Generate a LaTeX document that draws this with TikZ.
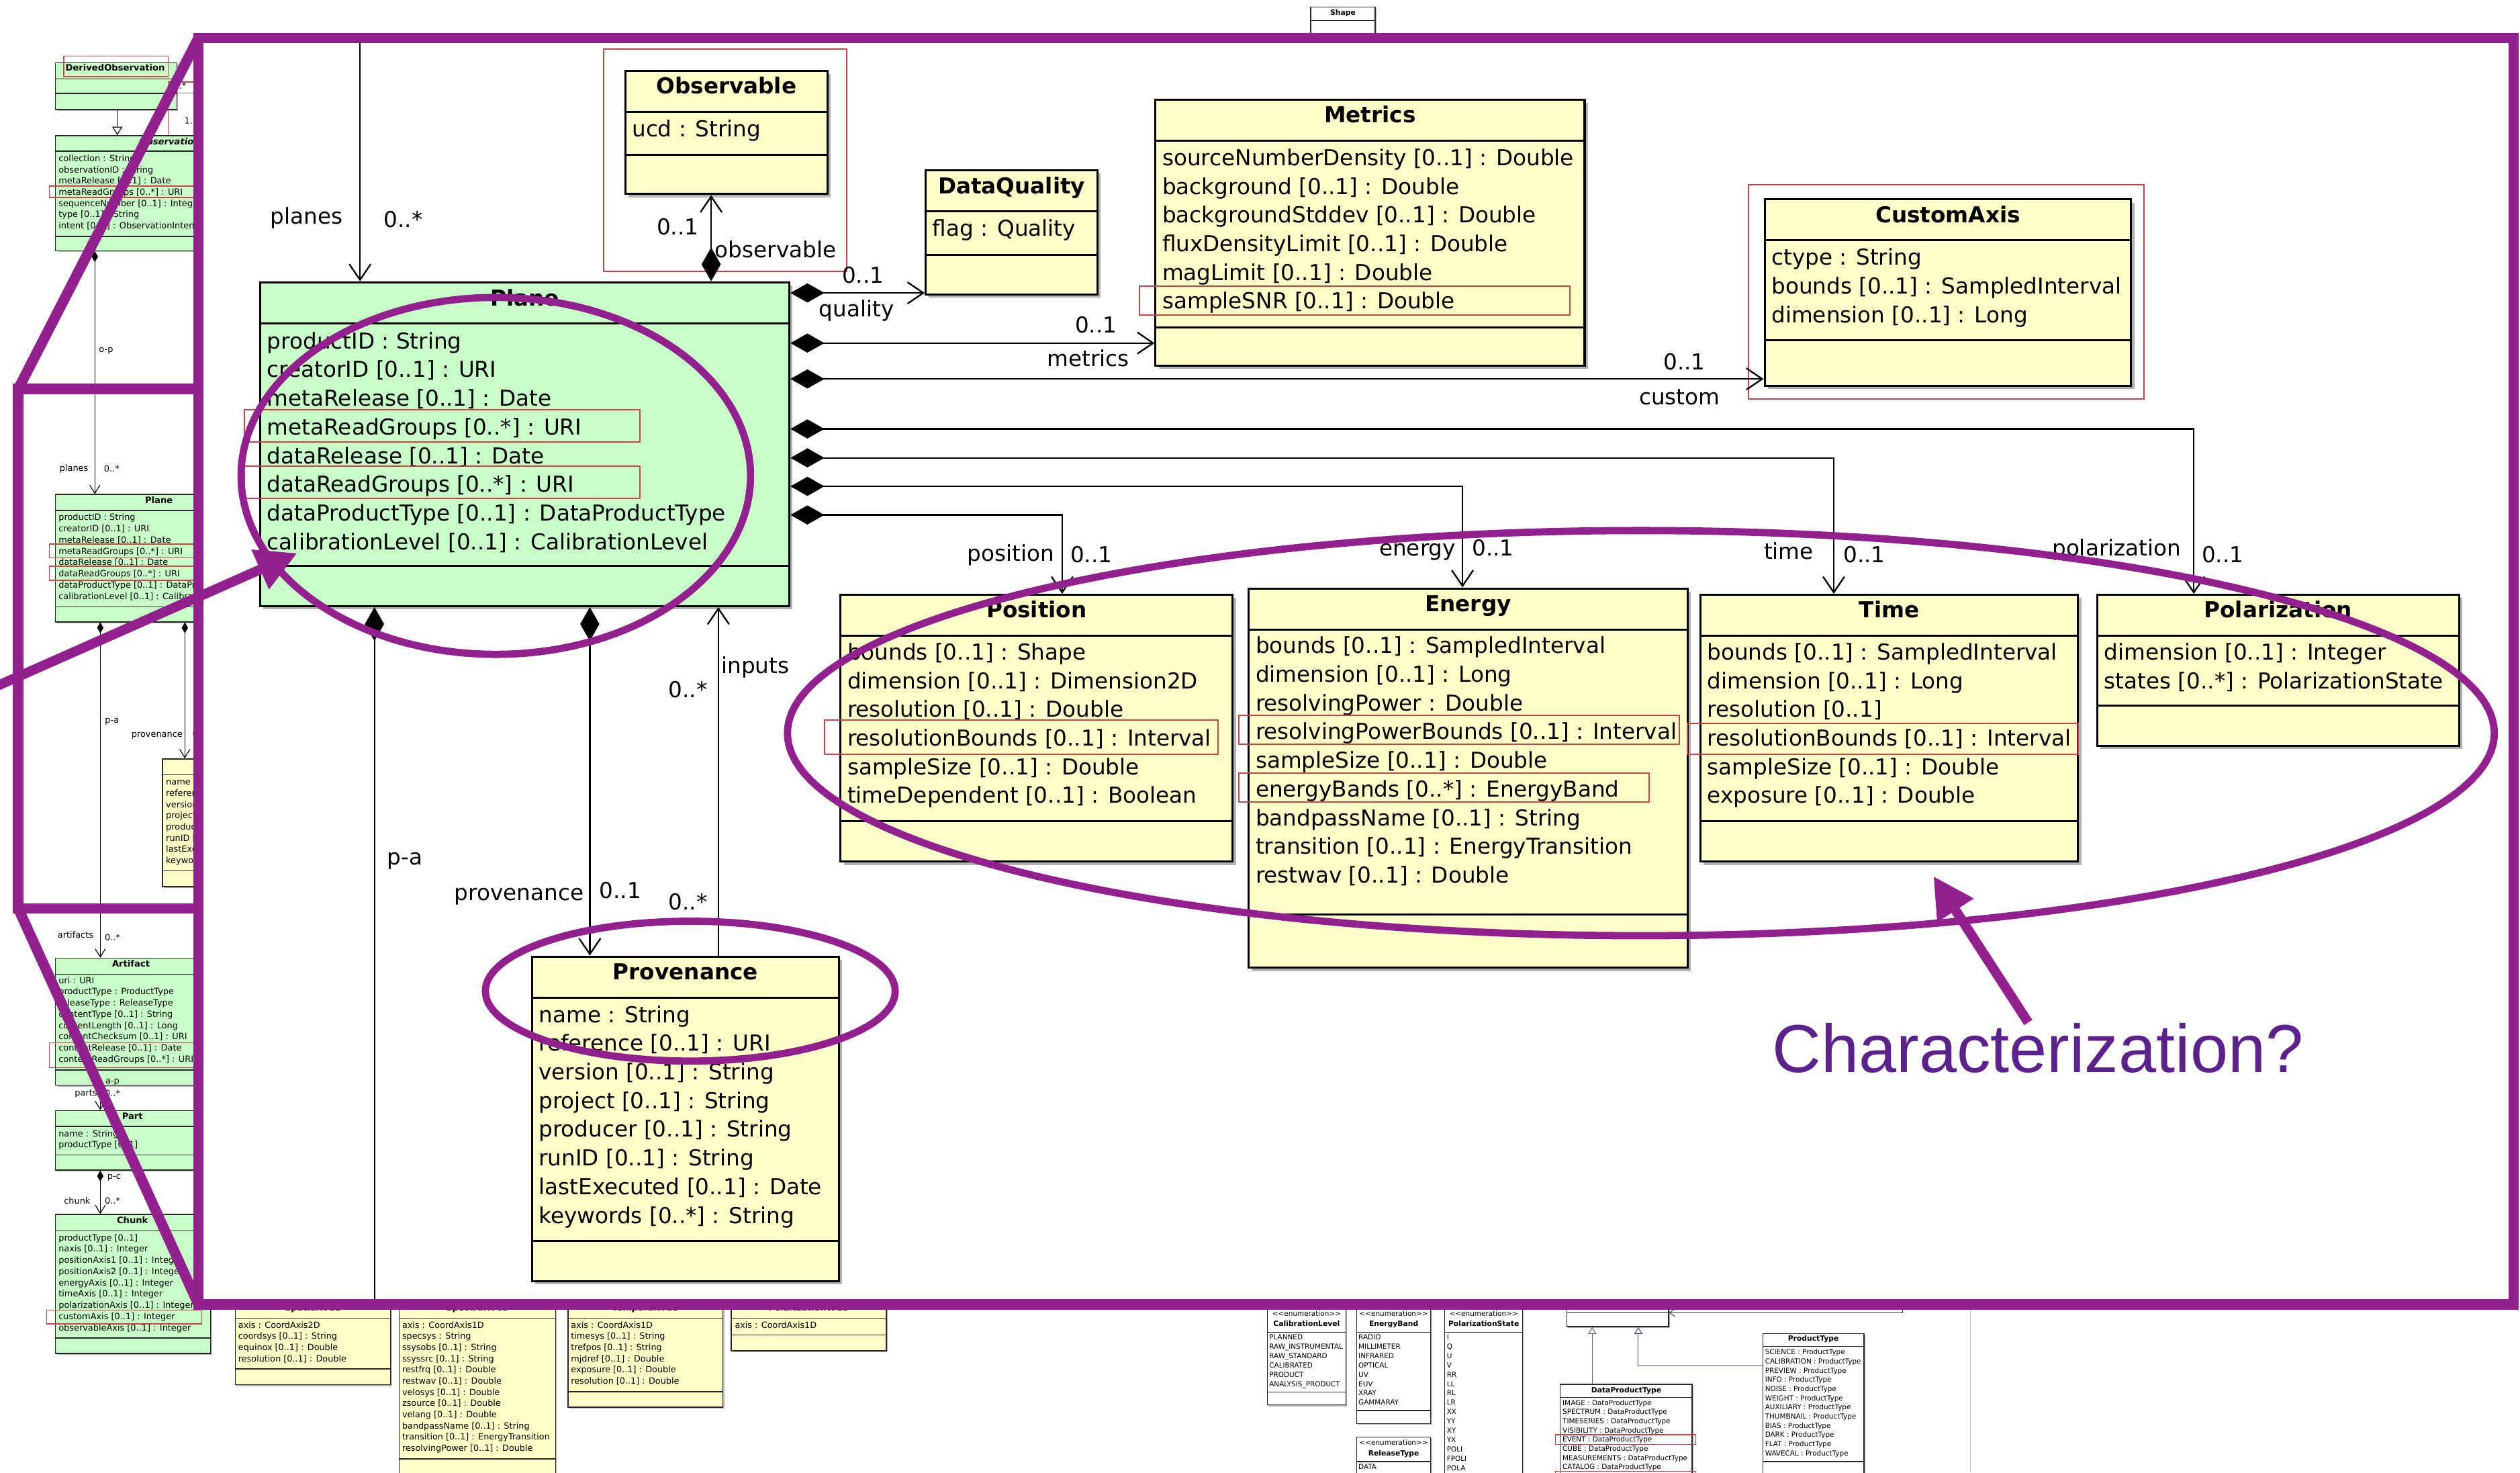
\documentclass[tikz,border=0pt]{standalone}
\usepackage{fontspec}
\setmainfont{DejaVu Sans}
\newfontfamily\calloutfont{Liberation Sans}
\usetikzlibrary{arrows.meta,fit,shadows}

\definecolor{umlgreen}{RGB}{200,255,200}
\definecolor{umlyellow}{RGB}{255,255,200}
\definecolor{hlred}{RGB}{200,70,70}
\definecolor{markpurple}{RGB}{146,32,142}
\definecolor{calloutviolet}{RGB}{92,34,140}
\definecolor{genblue}{RGB}{60,60,150}

\newcommand\fsMain{\fontsize{9.7}{12}\selectfont}
\newcommand\fsThumb{\fontsize{3.83}{5}\selectfont}
\newcommand\fsThumbB{\fontsize{3.9}{5}\selectfont}
\newcommand\fsStrip{\fontsize{3.8}{5}\selectfont}
\newcommand\fsEnum{\fontsize{3.1}{4}\selectfont}
\newcommand\fsEnumB{\fontsize{3.2}{4}\selectfont}

% class box: style, name, fill, x1, y1, x2, y2, separator rows
\newcommand\classbox[8]{%
  \node[#1, fill=#3, fit={(#4,#5)(#6,#7)}] (#2) {};
  \foreach \s in {#8} {\draw[#1sep] (#2.west |- 0,\s) -- (#2.east |- 0,\s);}
}
% attribute column: style, name prefix, x, first row, row step, entries
\newcommand\attrs[6]{%
  \foreach \lbl [count=\i] in {#6} {\node[#1] (#2\i) at (#3,{#4+(\i-1)*#5}) {\lbl};}
}

\tikzset{
  mbox/.style={draw=black, line width=0.9pt, inner sep=0pt,
    drop shadow={shadow xshift=1.4pt, shadow yshift=-1.4pt, fill=black, opacity=0.3}},
  mboxsep/.style={line width=0.9pt},
  tbox/.style={draw=black!85, line width=0.45pt, inner sep=0pt,
    drop shadow={shadow xshift=0.6pt, shadow yshift=-0.6pt, fill=black, opacity=0.3}},
  tboxsep/.style={line width=0.45pt, black!85},
  sbox/.style={draw=black!85, line width=0.4pt, inner sep=0pt,
    drop shadow={shadow xshift=0.6pt, shadow yshift=-0.6pt, fill=black, opacity=0.3}},
  sboxsep/.style={line width=0.4pt, black!85},
  ebox/.style={sbox},
  eboxsep/.style={sboxsep},
  shbox/.style={sbox},
  shboxsep/.style={sboxsep},
  mattr/.style={inner sep=0pt, text height=7pt, text depth=0pt, anchor=west, font=\fsMain},
  mlabel/.style={inner sep=0pt, text height=7pt, text depth=0pt, font=\fsMain},
  mtitle/.style={inner sep=0pt, text height=7pt, text depth=0pt, font=\fsMain\bfseries},
  tattr/.style={inner sep=0pt, text height=2.76pt, text depth=0pt, anchor=west, font=\fsThumb},
  tlabel/.style={inner sep=0pt, text height=2.76pt, text depth=0pt, font=\fsThumb},
  ttitle/.style={inner sep=0pt, text height=2.8pt, text depth=0pt, font=\fsThumbB\bfseries},
  sattr/.style={inner sep=0pt, text height=2.74pt, text depth=0pt, anchor=west, font=\fsStrip},
  stitle/.style={inner sep=0pt, text height=2.74pt, text depth=0pt, font=\fsStrip\bfseries},
  eattr/.style={inner sep=0pt, text height=2.23pt, text depth=0pt, anchor=west, font=\fsEnum},
  elabel/.style={inner sep=0pt, text height=2.23pt, text depth=0pt, font=\fsEnum},
  etitle/.style={inner sep=0pt, text height=2.3pt, text depth=0pt, font=\fsEnumB\bfseries},
  mhl/.style={draw=hlred, line width=0.6pt},
  thl/.style={draw=hlred, line width=0.35pt},
  mline/.style={line width=0.7pt},
  tline/.style={line width=0.35pt},
  sline/.style={line width=0.3pt},
  mbarb/.tip={Straight Barb[length=7pt,width=9.5pt]},
  mdiamond/.tip={Diamond[length=15pt,width=8.5pt]},
  tbarb/.tip={Straight Barb[length=3.6pt,width=4.5pt]},
  tdiamond/.tip={Diamond[length=4.8pt,width=2.8pt]},
  tgen/.tip={Triangle[open,length=3.7pt,width=4.6pt,fill=white]},
  sgen/.tip={Triangle[open,length=3pt,width=3.6pt,fill=white]},
  sbarb/.tip={Straight Barb[length=2.5pt,width=3.5pt]},
  ptip/.tip={Triangle[length=18pt,width=18pt]},
  pframe/.style={draw=markpurple, line width=4.6pt, line join=miter},
  pring/.style={draw=markpurple, line width=3.2pt},
  parrow/.style={draw=markpurple, line width=4.3pt, arrows={-ptip}},
}

\begin{document}
\begin{tikzpicture}[x=0.025cm, y=-0.025cm]
\useasboundingbox (0,0) rectangle (1568,916);
\fill[white] (0,0) rectangle (1568,916);

%================ overview column (left) ================
\classbox{tbox}{dobs}{umlgreen}{34.5}{39}{110}{68}{49,58}
\node[ttitle] (dobs-t) at (71.7,42.3) {DerivedObservation};
\draw[thl] (39.7,35) rectangle (104.7,47.6);
\draw[tline, black!55] (dobs.east |- 0,58) -- (135,58);
\draw[thl] (104.5,51) rectangle (135,86);
\node[tlabel, anchor=west] (dobs-m1) at (106,53.5) {0..*};
\node[tlabel, anchor=west] (dobs-m2) at (114.5,75) {1..};

\classbox{tbox}{tobs}{umlgreen}{34.5}{84.3}{176.5}{156}{94,147}
\node[ttitle, font=\fsThumbB\bfseries\itshape] (tobs-t) at (105.5,88) {Observation};
\attrs{tattr}{tobs-a}{36.2}{98.5}{6.97}{collection : String, observationID : String, metaRelease [0..1] : Date, metaReadGroups [0..*] : URI, sequenceNumber [0..1] : Integer, type [0..1] : String, intent [0..1] : ObservationIntentType}
\draw[thl] (30.6,115.7) rectangle (135,122.8);
\draw[tline, arrows={-tgen}] (dobs.south -| 73,0) -- (tobs.north -| 73,0);

\classbox{tbox}{tplane}{umlgreen}{34.5}{307.6}{163.3}{386.8}{317.6,377.4}
\node[ttitle] (tplane-t) at (98.9,311) {Plane};
\attrs{tattr}{tplane-a}{36.2}{321.8}{7.0}{productID : String, creatorID [0..1] : URI, metaRelease [0..1] : Date, metaReadGroups [0..*] : URI, dataRelease [0..1] : Date, dataReadGroups [0..*] : URI, dataProductType [0..1] : DataProductType, calibrationLevel [0..1] : CalibrationLevel}
\draw[thl] (30.6,338.4) rectangle (135,346.9);
\draw[thl] (30.6,352.2) rectangle (135,361);
\draw[tline, arrows={tdiamond-tbarb}] (tobs.south -| 59,0) -- (tplane.north -| 59,0);
\node[tlabel] (op-l) at (66,217) {o-p};
\node[tlabel] (tplanes-l) at (46,291) {planes};
\node[tlabel] (tplanes-m) at (69.5,291.5) {0..*};

\classbox{tbox}{tprov}{umlyellow}{101}{472}{175}{551.5}{482,541.6}
\node[ttitle] (tprov-t) at (138,477) {Provenance};
\attrs{tattr}{tprov-a}{103}{486.4}{6.95}{name : String, reference [0..1] : URI, version [0..1] : String, project [0..1] : String, producer [0..1] : String, runID [0..1] : String, lastExecuted [0..1] : Date, keywords [0..*] : String}

\classbox{tbox}{tart}{umlgreen}{34.5}{596}{128.5}{675}{606,665.6}
\node[ttitle] (tart-t) at (81.5,599.4) {Artifact};
\attrs{tattr}{tart-a}{36.2}{609.8}{7.0}{uri : URI, productType : ProductType, releaseType : ReleaseType, contentType [0..1] : String, contentLength [0..1] : Long, contentChecksum [0..1] : URI, contentRelease [0..1] : Date, contentReadGroups [0..*] : URI}
\draw[thl] (30.6,648.5) rectangle (135,664);

\classbox{tbox}{tpart}{umlgreen}{34.5}{690.8}{131}{727.8}{700.6,718.3}
\node[ttitle] (tpart-t) at (82.4,694.4) {Part};
\attrs{tattr}{tpart-a}{36.2}{705}{7.0}{name : String, productType [0..1]}

\classbox{tbox}{tchunk}{umlgreen}{34.5}{755.4}{131}{841.8}{765.6,832.3}
\node[ttitle] (tchunk-t) at (82.4,759) {Chunk};
\attrs{tattr}{tchunk-a}{36.2}{769.8}{7.0}{productType [0..1], naxis [0..1] : Integer, positionAxis1 [0..1] : Integer, positionAxis2 [0..1] : Integer, energyAxis [0..1] : Integer, timeAxis [0..1] : Integer, polarizationAxis [0..1] : Integer, customAxis [0..1] : Integer, observableAxis [0..1] : Integer}
\draw[thl] (29,815) rectangle (125.6,823.5);

\draw[tline, arrows={tdiamond-tbarb}] (tplane.south -| 62.4,0) -- (tart.north -| 62.4,0);
\draw[tline, arrows={tdiamond-tbarb}] (tplane.south -| 115,0) -- (tprov.north -| 115,0);
\draw[tline, arrows={tdiamond-tbarb}] (tart.south -| 62.4,0) -- (tpart.north -| 62.4,0);
\draw[tline, arrows={tdiamond-tbarb}] (tpart.south -| 62.4,0) -- (tchunk.north -| 62.4,0);
\node[tlabel] (pa-l) at (69.7,448) {p-a};
\node[tlabel] (tprov-l) at (97.7,456.7) {provenance};
\node[tlabel, anchor=west] (tprov-m) at (119.5,456.7) {0..1};
\node[tlabel] (tart-l) at (47,581.5) {artifacts};
\node[tlabel] (tart-m) at (70,583) {0..*};
\node[tlabel] (ap-l) at (70,672) {a-p};
\node[tlabel] (tpart-l) at (53.5,679.5) {parts};
\node[tlabel] (tpart-m) at (70,680) {0..*};
\node[tlabel] (pc-l) at (71,731.6) {p-c};
\node[tlabel] (tchunk-l) at (48,747) {chunk};
\node[tlabel] (tchunk-m) at (70,747) {0..*};

%================ overview row (bottom) ================
\classbox{sbox}{spatialwcs}{umlyellow}{146.4}{790}{243}{861.4}{819.8,851.5}
\node[stitle] (spatialwcs-t) at (194.7,813.2) {SpatialWCS};
\attrs{sattr}{spatialwcs-a}{148}{824.2}{6.95}{axis : CoordAxis2D, coordsys [0..1] : String, equinox [0..1] : Double, resolution [0..1] : Double}

\classbox{sbox}{spectralwcs}{umlyellow}{248.4}{790}{345.7}{940}{819.8,907.5}
\node[stitle] (spectralwcs-t) at (297,813.2) {SpectralWCS};
\attrs{sattr}{spectralwcs-a}{250}{824.2}{6.95}{axis : CoordAxis1D, specsys : String, ssysobs [0..1] : String, ssyssrc [0..1] : String, restfrq [0..1] : Double, restwav [0..1] : Double, velosys [0..1] : Double, zsource [0..1] : Double, velang [0..1] : Double, bandpassName [0..1] : String, transition [0..1] : EnergyTransition, resolvingPower [0..1] : Double}

\classbox{sbox}{temporalwcs}{umlyellow}{353.4}{790}{449.8}{875.3}{819.8,865.6}
\node[stitle] (temporalwcs-t) at (401.6,813.2) {TemporalWCS};
\attrs{sattr}{temporalwcs-a}{355}{824.2}{6.95}{axis : CoordAxis1D, timesys [0..1] : String, trefpos [0..1] : String, mjdref [0..1] : Double, exposure [0..1] : Double, resolution [0..1] : Double}

\classbox{sbox}{polwcs}{umlyellow}{455}{790}{551.5}{840.2}{819.8,830.4}
\node[stitle] (polwcs-t) at (503,813.2) {PolarizationWCS};
\attrs{sattr}{polwcs-a}{457}{824.2}{6.95}{axis : CoordAxis1D}

\classbox{ebox}{callevel}{white}{788.5}{790}{837.4}{873.9}{828.6,865.8}
\node[elabel] (callevel-s) at (813,817) {<{}<enumeration>{}>};
\node[etitle] (callevel-t) at (813,823.5) {CalibrationLevel};
\attrs{eattr}{callevel-a}{789.5}{831.8}{5.8}{PLANNED, RAW\_INSTRUMENTAL, RAW\_STANDARD, CALIBRATED, PRODUCT, ANALYSIS\_PRODUCT}

\classbox{ebox}{eband}{white}{844.2}{790}{890.2}{885.5}{828.6,877.4}
\node[elabel] (eband-s) at (867.2,817) {<{}<enumeration>{}>};
\node[etitle] (eband-t) at (867.2,823.5) {EnergyBand};
\attrs{eattr}{eband-a}{845}{831.8}{5.8}{RADIO, MILLIMETER, INFRARED, OPTICAL, UV, EUV, XRAY, GAMMARAY}

\classbox{ebox}{reltype}{white}{844.2}{893.8}{890.2}{940}{909.1}
\node[elabel] (reltype-s) at (867.2,897.2) {<{}<enumeration>{}>};
\node[etitle] (reltype-t) at (867.2,903.8) {ReleaseType};
\attrs{eattr}{reltype-a}{845}{912.4}{5.8}{DATA}

\classbox{ebox}{polstate}{white}{899}{790}{947.3}{940}{828.6}
\node[elabel] (polstate-s) at (923.2,817) {<{}<enumeration>{}>};
\node[etitle] (polstate-t) at (923.2,823.5) {PolarizationState};
\attrs{eattr}{polstate-a}{900}{831.8}{5.8}{I, Q, U, V, RR, LL, RL, LR, XX, YY, XY, YX, POLI, FPOLI, POLA}

\classbox{ebox}{abstype}{white}{974.9}{790}{1038.2}{825.2}{816.5}
\classbox{ebox}{dpt}{white}{970.8}{861}{1052.9}{940}{869.3}
\node[etitle] (dpt-t) at (1011.9,864.6) {DataProductType};
\attrs{eattr}{dpt-a}{972}{872.5}{5.71}{IMAGE : DataProductType, SPECTRUM : DataProductType, TIMESERIES : DataProductType, VISIBILITY : DataProductType, EVENT : DataProductType, CUBE : DataProductType, MEASUREMENTS : DataProductType, CATALOG : DataProductType}
\draw[thl] (967.8,892.4) rectangle (1055.2,898.3);
\draw[thl] (967.8,915.3) rectangle (1055.2,925);

\classbox{ebox}{ptype}{white}{1096.8}{829.6}{1159.8}{940}{837.4,909.1}
\node[etitle] (ptype-t) at (1128.3,832.6) {ProductType};
\attrs{eattr}{ptype-a}{1098}{841}{5.71}{SCIENCE : ProductType, CALIBRATION : ProductType, PREVIEW : ProductType, INFO : ProductType, NOISE : ProductType, WEIGHT : ProductType, AUXILIARY : ProductType, THUMBNAIL : ProductType, BIAS : ProductType, DARK : ProductType, FLAT : ProductType, WAVECAL : ProductType}

\draw[sline, black!60, arrows={-sgen}] (dpt.north -| 990.7,0) -- (abstype.south -| 990.7,0);
\draw[sline, genblue, arrows={-sgen}] (ptype.west |- 0,849.5) -| (abstype.south -| 1019.4,0);
\coordinate (extLink) at (1184,800);
\draw[sline, black!75, arrows={-sbarb}] (extLink) |- (abstype.east |- 0,816.5);
\coordinate (rulerTop) at (1226,813);
\coordinate (rulerBot) at (1226,916);
\draw[black!25, line width=0.3pt] (rulerTop) -- (rulerBot);

\classbox{shbox}{shape}{white}{815.6}{4.5}{855.7}{40}{12.8}
\node[etitle] (shape-t) at (835.6,7.9) {Shape};

%================ magnified panel ================
\fill[white] (123.5,23.6) rectangle (1564,811.4);

% Observable
\classbox{mbox}{obs}{umlyellow}{389}{43.9}{515}{120.7}{69.4,96.1}
\node[mtitle] (obs-t) at (452,53.3) {Observable};
\attrs{mattr}{obs-a}{393}{80.1}{17.85}{ucd : String}
\draw[mhl] (375.6,30.6) rectangle (527,168.9);

% DataQuality
\classbox{mbox}{dq}{umlyellow}{576}{106}{683}{183}{131.5,158.5}
\node[mtitle] (dq-t) at (629.5,115.4) {DataQuality};
\attrs{mattr}{dq-a}{580}{142}{17.85}{flag : Quality}

% Metrics
\classbox{mbox}{met}{umlyellow}{719}{62}{986}{227.5}{87.5,203.5}
\node[mtitle] (met-t) at (852.5,71.4) {Metrics};
\attrs{mattr}{met-a}{723}{98}{17.85}{sourceNumberDensity [0..1] : Double, background [0..1] : Double, backgroundStddev [0..1] : Double, fluxDensityLimit [0..1] : Double, magLimit [0..1] : Double, sampleSNR [0..1] : Double}
\draw[mhl] (709,178) rectangle (977,196);

% CustomAxis
\classbox{mbox}{cax}{umlyellow}{1098}{124}{1326}{240}{149.5,211.7}
\node[mtitle] (cax-t) at (1212,133.4) {CustomAxis};
\attrs{mattr}{cax-a}{1102}{160}{17.85}{ctype : String, bounds [0..1] : SampledInterval, dimension [0..1] : Long}
\draw[mhl] (1088,115) rectangle (1334,248);

% Plane
\classbox{mbox}{plane}{umlgreen}{162}{175.6}{491.2}{377}{201.3,352}
\node[mtitle] (plane-t) at (326.6,185.3) {Plane};
\attrs{mattr}{plane-a}{166}{212}{17.85}{productID : String, creatorID [0..1] : URI, metaRelease [0..1] : Date, metaReadGroups [0..*] : URI, dataRelease [0..1] : Date, dataReadGroups [0..*] : URI, dataProductType [0..1] : DataProductType, calibrationLevel [0..1] : CalibrationLevel}
\draw[mhl] (152,255) rectangle (398,275);
\draw[mhl] (152,290) rectangle (398,310);

% Position
\classbox{mbox}{pos}{umlyellow}{523}{370}{767}{536}{395.5,510.7}
\node[mtitle] (pos-t) at (645,379.4) {Position};
\attrs{mattr}{pos-a}{527}{405.5}{17.85}{bounds [0..1] : Shape, dimension [0..1] : Dimension2D, resolution [0..1] : Double, resolutionBounds [0..1] : Interval, sampleSize [0..1] : Double, timeDependent [0..1] : Boolean}
\draw[mhl] (513,448) rectangle (758,469);

% Energy
\classbox{mbox}{energy}{umlyellow}{777}{366}{1050}{602}{391.5,569}
\node[mtitle] (energy-t) at (913.5,375.4) {Energy};
\attrs{mattr}{energy-a}{781}{401.5}{17.85}{bounds [0..1] : SampledInterval, dimension [0..1] : Long, resolvingPower : Double, resolvingPowerBounds [0..1] : Interval, sampleSize [0..1] : Double, energyBands [0..*] : EnergyBand, bandpassName [0..1] : String, transition [0..1] : EnergyTransition, restwav [0..1] : Double}
\draw[mhl] (771,445) rectangle (1045,463);
\draw[mhl] (771,481) rectangle (1026,499);

% Time
\classbox{mbox}{time}{umlyellow}{1058}{370}{1293}{536}{395.5,510.7}
\node[mtitle] (time-t) at (1175.5,379.4) {Time};
\attrs{mattr}{time-a}{1062}{405.5}{17.85}{bounds [0..1] : SampledInterval, dimension [0..1] : Long, resolution [0..1], resolutionBounds [0..1] : Interval, sampleSize [0..1] : Double, exposure [0..1] : Double}
\draw[mhl] (1050,450) rectangle (1293,469);

% Polarization
\classbox{mbox}{pol}{umlyellow}{1305}{370}{1530}{464}{395.5,439}
\node[mtitle] (pol-t) at (1417.5,379.4) {Polarization};
\attrs{mattr}{pol-a}{1309}{405.5}{17.85}{dimension [0..1] : Integer, states [0..*] : PolarizationState}

% Provenance
\classbox{mbox}{prov}{umlyellow}{331}{595}{522}{797}{620.5,772}
\node[mtitle] (prov-t) at (426.5,604.4) {Provenance};
\attrs{mattr}{prov-a}{335}{631}{17.85}{name : String, reference [0..1] : URI, version [0..1] : String, project [0..1] : String, producer [0..1] : String, runID [0..1] : String, lastExecuted [0..1] : Date, keywords [0..*] : String}

% associations of Plane
\coordinate (planesTop) at (224,25);
\coordinate (paEnd) at (233,811);
\draw[mline, arrows={-mbarb}] (planesTop) -- (plane.north -| planesTop);
\draw[mline, arrows={mdiamond-mbarb}] (plane.north -| 442.5,0) -- (obs.south -| 442.5,0);
\draw[mline, arrows={mdiamond-mbarb}] (plane.east |- 0,182.2) -- (dq.west |- 0,182.2);
\draw[mline, arrows={mdiamond-mbarb}] (plane.east |- 0,213.4) -- (met.west |- 0,213.4);
\draw[mline, arrows={mdiamond-mbarb}] (plane.east |- 0,235.7) -- (cax.west |- 0,235.7);
\draw[mline, arrows={mdiamond-mbarb}] (plane.east |- 0,266.8) -| (pol.north -| 1365,0);
\draw[mline, arrows={mdiamond-mbarb}] (plane.east |- 0,284.8) -| (time.north -| 1141,0);
\draw[mline, arrows={mdiamond-mbarb}] (plane.east |- 0,302.5) -| (energy.north -| 910,0);
\draw[mline, arrows={mdiamond-mbarb}] (plane.east |- 0,320.3) -| (pos.north -| 660.9,0);
\draw[mline, arrows={-mbarb}] (prov.north -| 447,0) -- (plane.south -| 447,0);
\draw[mline, arrows={mdiamond-mbarb}] (plane.south -| 367,0) -- (prov.north -| 367,0);
\draw[mline, arrows={mdiamond-}] (plane.south -| paEnd) -- (paEnd);

% role names and multiplicities
\node[mlabel] (planes-l) at (190.8,134.6) {planes};
\node[mlabel] (planes-m) at (251,136.5) {0..*};
\node[mlabel] (obs-m) at (421.7,141.3) {0..1};
\node[mlabel] (obs-l) at (482.6,155.5) {observable};
\node[mlabel] (dq-m) at (537,171) {0..1};
\node[mlabel] (dq-l) at (533,192) {quality};
\node[mlabel] (met-m) at (682,202) {0..1};
\node[mlabel] (met-l) at (677,223) {metrics};
\node[mlabel] (cax-m) at (1048,225) {0..1};
\node[mlabel] (cax-l) at (1045,247) {custom};
\node[mlabel] (pos-l) at (629,344) {position};
\node[mlabel] (pos-m) at (679,345) {0..1};
\node[mlabel] (energy-l) at (882,341) {energy};
\node[mlabel] (energy-m) at (929,341) {0..1};
\node[mlabel] (time-l) at (1113,343) {time};
\node[mlabel] (time-m) at (1160,345) {0..1};
\node[mlabel] (pol-l) at (1317,341) {polarization};
\node[mlabel] (pol-m) at (1383,345) {0..1};
\node[mlabel] (inputs-l) at (470,414) {inputs};
\node[mlabel] (inputs-m) at (428,429) {0..*};
\node[mlabel] (inputs-m2) at (428,561) {0..*};
\node[mlabel] (pa-main-l) at (252,533) {p-a};
\node[mlabel] (prov-l) at (323,555) {provenance};
\node[mlabel] (prov-m) at (386,554) {0..1};

%================ magnification frames and call-outs ================
\draw[pframe] (123.5,23.6) rectangle (1564,811.4);
\draw[pframe] (11.3,242) rectangle (123.5,565);
\draw[pframe] (11.3,242) -- (123.5,23.6);
\draw[pframe] (11.3,565) -- (123.5,811.4);

\draw[pring] (308.5,296) ellipse [x radius=158.5, y radius=111];
\draw[pring] (429.5,616.5) ellipse [x radius=127.5, y radius=43.5];
\draw[pring] (1021,456) ellipse [x radius=531, y radius=126];

\coordinate (ptrA) at (-10,430.3);
\coordinate (ptrB) at (185,344);
\draw[parrow] (ptrA) -- (ptrB);

\node[font=\calloutfont\fontsize{30}{36}\selectfont, text=calloutviolet, inner sep=0pt] (charq) at (1268,652) {Characterization?};
\coordinate (chA) at (1262,636);
\coordinate (chB) at (1203,545);
\draw[parrow] (chA) -- (chB);
\end{tikzpicture}
\end{document}
